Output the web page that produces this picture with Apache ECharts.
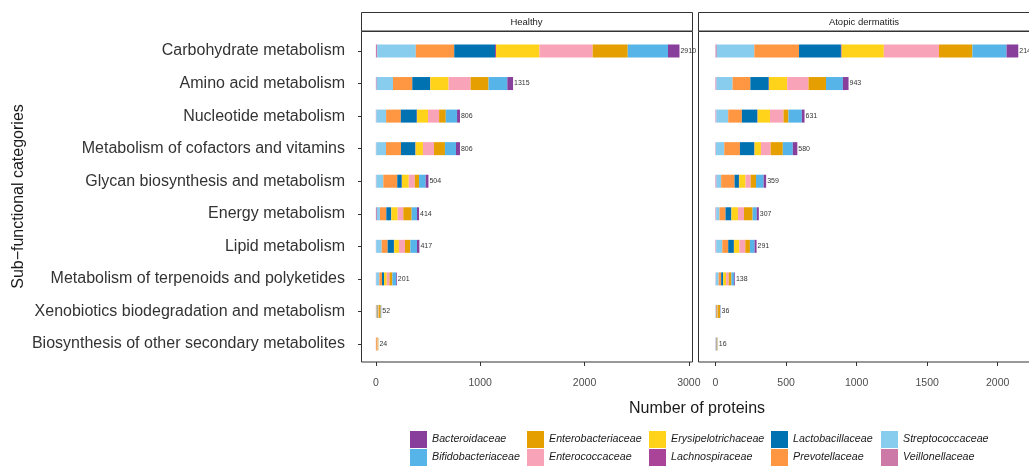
<!DOCTYPE html>
<html>
<head>
<meta charset="utf-8">
<script src="https://cdn.jsdelivr.net/npm/echarts@6/dist/echarts.min.js"></script>
<style>
  html, body { margin: 0; padding: 0; background: #fff; }
  #chart { width: 1029px; height: 466px; }
</style>
</head>
<body>
<div id="chart"></div>
<script>
// categories, top to bottom
var categories = [
  "Carbohydrate metabolism",
  "Amino acid metabolism",
  "Nucleotide metabolism",
  "Metabolism of cofactors and vitamins",
  "Glycan biosynthesis and metabolism",
  "Energy metabolism",
  "Lipid metabolism",
  "Metabolism of terpenoids and polyketides",
  "Xenobiotics biodegradation and metabolism",
  "Biosynthesis of other secondary metabolites"
];
var panels = ["Healthy", "Atopic dermatitis"];

// stack order, left to right
var families = ["Veillonellaceae", "Streptococcaceae", "Prevotellaceae", "Lactobacillaceae", "Lachnospiraceae",
  "Erysipelotrichaceae", "Enterococcaceae", "Enterobacteriaceae", "Bifidobacteriaceae", "Bacteroidaceae"];
var familyColors = ["#CC79A7", "#88CCEE", "#FF9641", "#0072B2", "#AA4499",
  "#FFD31A", "#F9A3B9", "#E69F00", "#56B4E9", "#883F9B"];

// Healthy
var healthyVeillonellaceae     = [13, 8, 5, 4, 5, 10, 3, 3, 1, 2];
var healthyStreptococcaceae    = [370, 156, 93, 93, 66, 29, 53, 30, 6, 1];
var healthyPrevotellaceae      = [368, 185, 141, 144, 134, 61, 57, 26, 8, 9];
var healthyLactobacillaceae    = [391, 170, 153, 137, 43, 46, 60, 19, 4, 1];
var healthyLachnospiraceae     = [10, 3, 3, 3, 2, 2, 2, 1, 0, 0];
var healthyErysipelotrichaceae = [416, 175, 105, 70, 65, 61, 46, 25, 5, 2];
var healthyEnterococcaceae     = [510, 211, 106, 106, 58, 54, 58, 26, 4, 3];
var healthyEnterobacteriaceae  = [336, 172, 64, 105, 41, 80, 51, 28, 18, 5];
var healthyBifidobacteriaceae  = [386, 180, 108, 106, 64, 51, 64, 36, 5, 1];
var healthyBacteroidaceae      = [110, 55, 28, 38, 26, 20, 23, 7, 1, 0];
var healthyTotals = [2910, 1315, 806, 806, 504, 414, 417, 201, 52, 24];

// Atopic dermatitis
var adVeillonellaceae     = [9, 7, 6, 3, 7, 5, 5, 2, 1, 2];
var adStreptococcaceae    = [266, 114, 84, 59, 33, 23, 43, 20, 3, 3];
var adPrevotellaceae      = [317, 126, 97, 111, 95, 43, 42, 18, 6, 3];
var adLactobacillaceae    = [297, 130, 110, 102, 31, 41, 40, 14, 3, 2];
var adLachnospiraceae     = [5, 2, 2, 2, 2, 1, 1, 1, 0, 0];
var adErysipelotrichaceae = [299, 129, 87, 45, 45, 46, 38, 20, 3, 1];
var adEnterococcaceae     = [391, 151, 96, 69, 36, 43, 42, 18, 2, 2];
var adEnterobacteriaceae  = [237, 124, 35, 86, 38, 61, 33, 20, 14, 2];
var adBifidobacteriaceae  = [242, 120, 95, 71, 54, 29, 33, 20, 3, 1];
var adBacteroidaceae      = [83, 40, 19, 32, 18, 15, 14, 5, 1, 0];
var adTotals = [2146, 943, 631, 580, 359, 307, 291, 138, 36, 16];

var healthyTicks = [0, 1000, 2000, 3000];
var adTicks = [0, 500, 1000, 1500, 2000];

var healthyData = [healthyVeillonellaceae, healthyStreptococcaceae, healthyPrevotellaceae, healthyLactobacillaceae,
  healthyLachnospiraceae, healthyErysipelotrichaceae, healthyEnterococcaceae, healthyEnterobacteriaceae,
  healthyBifidobacteriaceae, healthyBacteroidaceae];
var adData = [adVeillonellaceae, adStreptococcaceae, adPrevotellaceae, adLactobacillaceae,
  adLachnospiraceae, adErysipelotrichaceae, adEnterococcaceae, adEnterobacteriaceae,
  adBifidobacteriaceae, adBacteroidaceae];

var FONT = "'Liberation Sans', Arial, sans-serif";
var chart = echarts.init(document.getElementById("chart"));

var series = [];
[healthyData, adData].forEach(function (groupData, g) {
  var totals = g === 0 ? healthyTotals : adTotals;
  groupData.forEach(function (vals, i) {
    var s = {
      name: families[i],
      type: "bar",
      stack: "g" + g,
      xAxisIndex: g,
      yAxisIndex: g,
      barWidth: 13,
      itemStyle: { color: familyColors[i] },
      emphasis: { disabled: true },
      data: vals
    };
    if (i === groupData.length - 1) {
      s.label = {
        show: true,
        position: "right",
        distance: 1,
        fontFamily: FONT,
        fontSize: 7,
        color: "#333",
        formatter: function (p) { return totals[p.dataIndex]; }
      };
    }
    series.push(s);
  });
});

function xAxisFor(idx, min, max, ticks) {
  return {
    type: "value",
    gridIndex: idx,
    min: min,
    max: max,
    offset: 1.7,
    axisLine: { show: false, onZero: false },
    splitLine: { show: false },
    axisTick: { show: true, length: 4, customValues: ticks, lineStyle: { color: "#333", width: 1 } },
    axisLabel: {
      customValues: ticks, margin: 16, fontFamily: FONT, fontSize: 10.5, color: "#4D4D4D",
      formatter: function (v) { return String(v); }
    }
  };
}

function yAxisFor(idx, showLabels) {
  return {
    type: "category",
    gridIndex: idx,
    data: categories,
    inverse: true,
    axisLine: { show: false, onZero: false },
    axisTick: { show: showLabels, length: 4, alignWithLabel: true, lineStyle: { color: "#333" } },
    axisLabel: { show: showLabels, margin: 17, fontFamily: FONT, fontSize: 16, color: "#333" }
  };
}

var legends = [];
var legendLefts = [410, 527, 649, 771, 881];
var legendRow1 = ["Bacteroidaceae", "Enterobacteriaceae", "Erysipelotrichaceae", "Lactobacillaceae", "Streptococcaceae"];
var legendRow2 = ["Bifidobacteriaceae", "Enterococcaceae", "Lachnospiraceae", "Prevotellaceae", "Veillonellaceae"];
for (var c = 0; c < 5; c++) {
  legends.push({
    orient: "vertical",
    left: legendLefts[c],
    top: 431,
    height: 40,
    itemWidth: 17,
    itemHeight: 17,
    itemGap: 1,
    icon: "rect",
    selectedMode: false,
    padding: 0,
    textStyle: { fontFamily: FONT, fontStyle: "italic", fontSize: 10.7, color: "#1A1A1A" },
    data: [legendRow1[c], legendRow2[c]]
  });
}

function panelFrame(x, w, label) {
  return [
    { type: "rect", shape: { x: x + 0.5, y: 12.5, width: w, height: 18.5 },
      style: { fill: "#fff", stroke: "#333", lineWidth: 1 }, z: 10 },
    { type: "text", x: x + w / 2, y: 22,
      style: { text: label, fill: "#1A1A1A", font: "9.5px " + FONT, align: "center", verticalAlign: "middle" }, z: 11 },
    { type: "rect", shape: { x: x + 0.5, y: 31.5, width: w, height: 330.5 },
      style: { fill: "none", stroke: "#333", lineWidth: 1 }, z: 10 }
  ];
}

var option = {
  backgroundColor: "#fff",
  animation: false,
  grid: [
    { left: 362, top: 34.7, width: 330, height: 325.6 },
    { left: 699, top: 34.7, width: 331, height: 325.6 }
  ],
  xAxis: [xAxisFor(0, -133, 3030, healthyTicks), xAxisFor(1, -117, 2222, adTicks)],
  yAxis: [yAxisFor(0, true), yAxisFor(1, false)],
  legend: legends,
  graphic: [].concat(
    panelFrame(361, 331, panels[0]),
    panelFrame(698, 332, panels[1]),
    [
      { type: "text", x: 697, y: 409,
        style: { text: "Number of proteins", fill: "#1A1A1A", font: "16px " + FONT, align: "center", verticalAlign: "middle" } },
      { type: "text", x: 18.5, y: 196.5, rotation: Math.PI / 2,
        style: { text: "Sub\u2212functional categories", fill: "#1A1A1A", font: "16px " + FONT, align: "center", verticalAlign: "middle" } }
    ]
  ),
  series: series
};

chart.setOption(option);
</script>
</body>
</html>
